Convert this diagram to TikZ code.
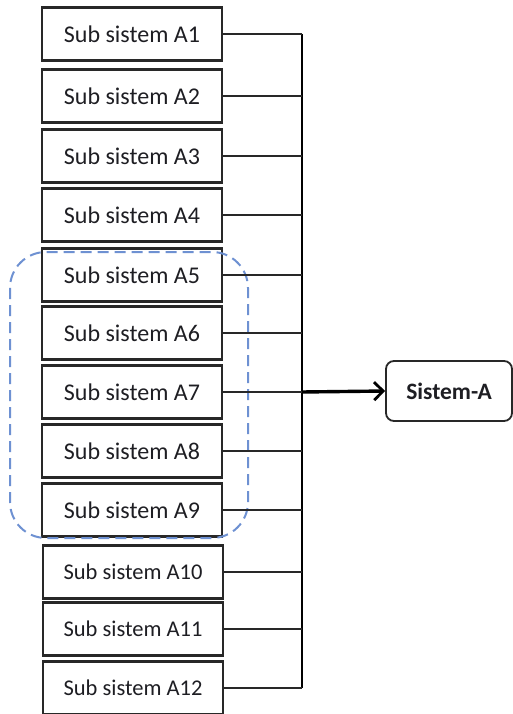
\documentclass[tikz,border=0pt]{standalone}
\usepackage{fontspec}
\setmainfont{Carlito}
\usetikzlibrary{arrows.meta}
\definecolor{boxline}{RGB}{40,40,40}
\definecolor{txt}{RGB}{30,30,35}
\definecolor{groupblue}{RGB}{110,145,210}
\begin{document}
\begin{tikzpicture}[x=1pt,y=-1pt,
  subbox/.style={draw=boxline,line width=2.2pt,minimum width=180pt,minimum height=53pt,
    inner sep=0pt,text=txt,font=\fontsize{24}{27}\selectfont},
  subboxs/.style={subbox,font=\fontsize{22.5}{26}\selectfont},
  mainbox/.style={draw=boxline,line width=1.8pt,rounded corners=8pt,minimum width=126pt,
    minimum height=60pt,inner sep=0pt,text=txt,font=\fontsize{23.5}{26}\selectfont\bfseries},
  link/.style={draw=boxline,line width=2pt},
  bus/.style={draw=black,line width=2.6pt},
  feed/.style={draw=black,line width=3.4pt,-{Straight Barb[length=9pt,width=18pt,line width=2.8pt]}},
  group/.style={draw=groupblue,line width=2pt,dash pattern=on 11pt off 6pt,rounded corners=36pt}]
\useasboundingbox (0,0) rectangle (513,714);

% sub-system boxes
\foreach \i/\y in {1/34,2/96,3/156,4/215,5/275,6/333,7/392,8/451,9/510}{
  \node[subbox] (a\i) at (132,\y) {Sub sistem A\i};
}
\foreach \i/\y in {10/572,11/629,12/688}{
  \node[subboxs] (a\i) at (133,\y) {Sub sistem A\i};
}

% target system
\node[mainbox] (sys) at (449,391) {Sistem-A};

% dashed group around A5--A9
\draw[group] (10,252) rectangle (248,538);

% collector bus
\coordinate (bt) at (302,34);
\coordinate (bb) at (302,688);
\coordinate (bm) at (302,392);
\draw[bus] (bt) -- (bb);
\foreach \i in {1,...,12}{
  \draw[link] (a\i.east) -- (a\i.east -| bt);
}
\draw[feed] (bm) -- (sys.west);
\end{tikzpicture}
\end{document}
